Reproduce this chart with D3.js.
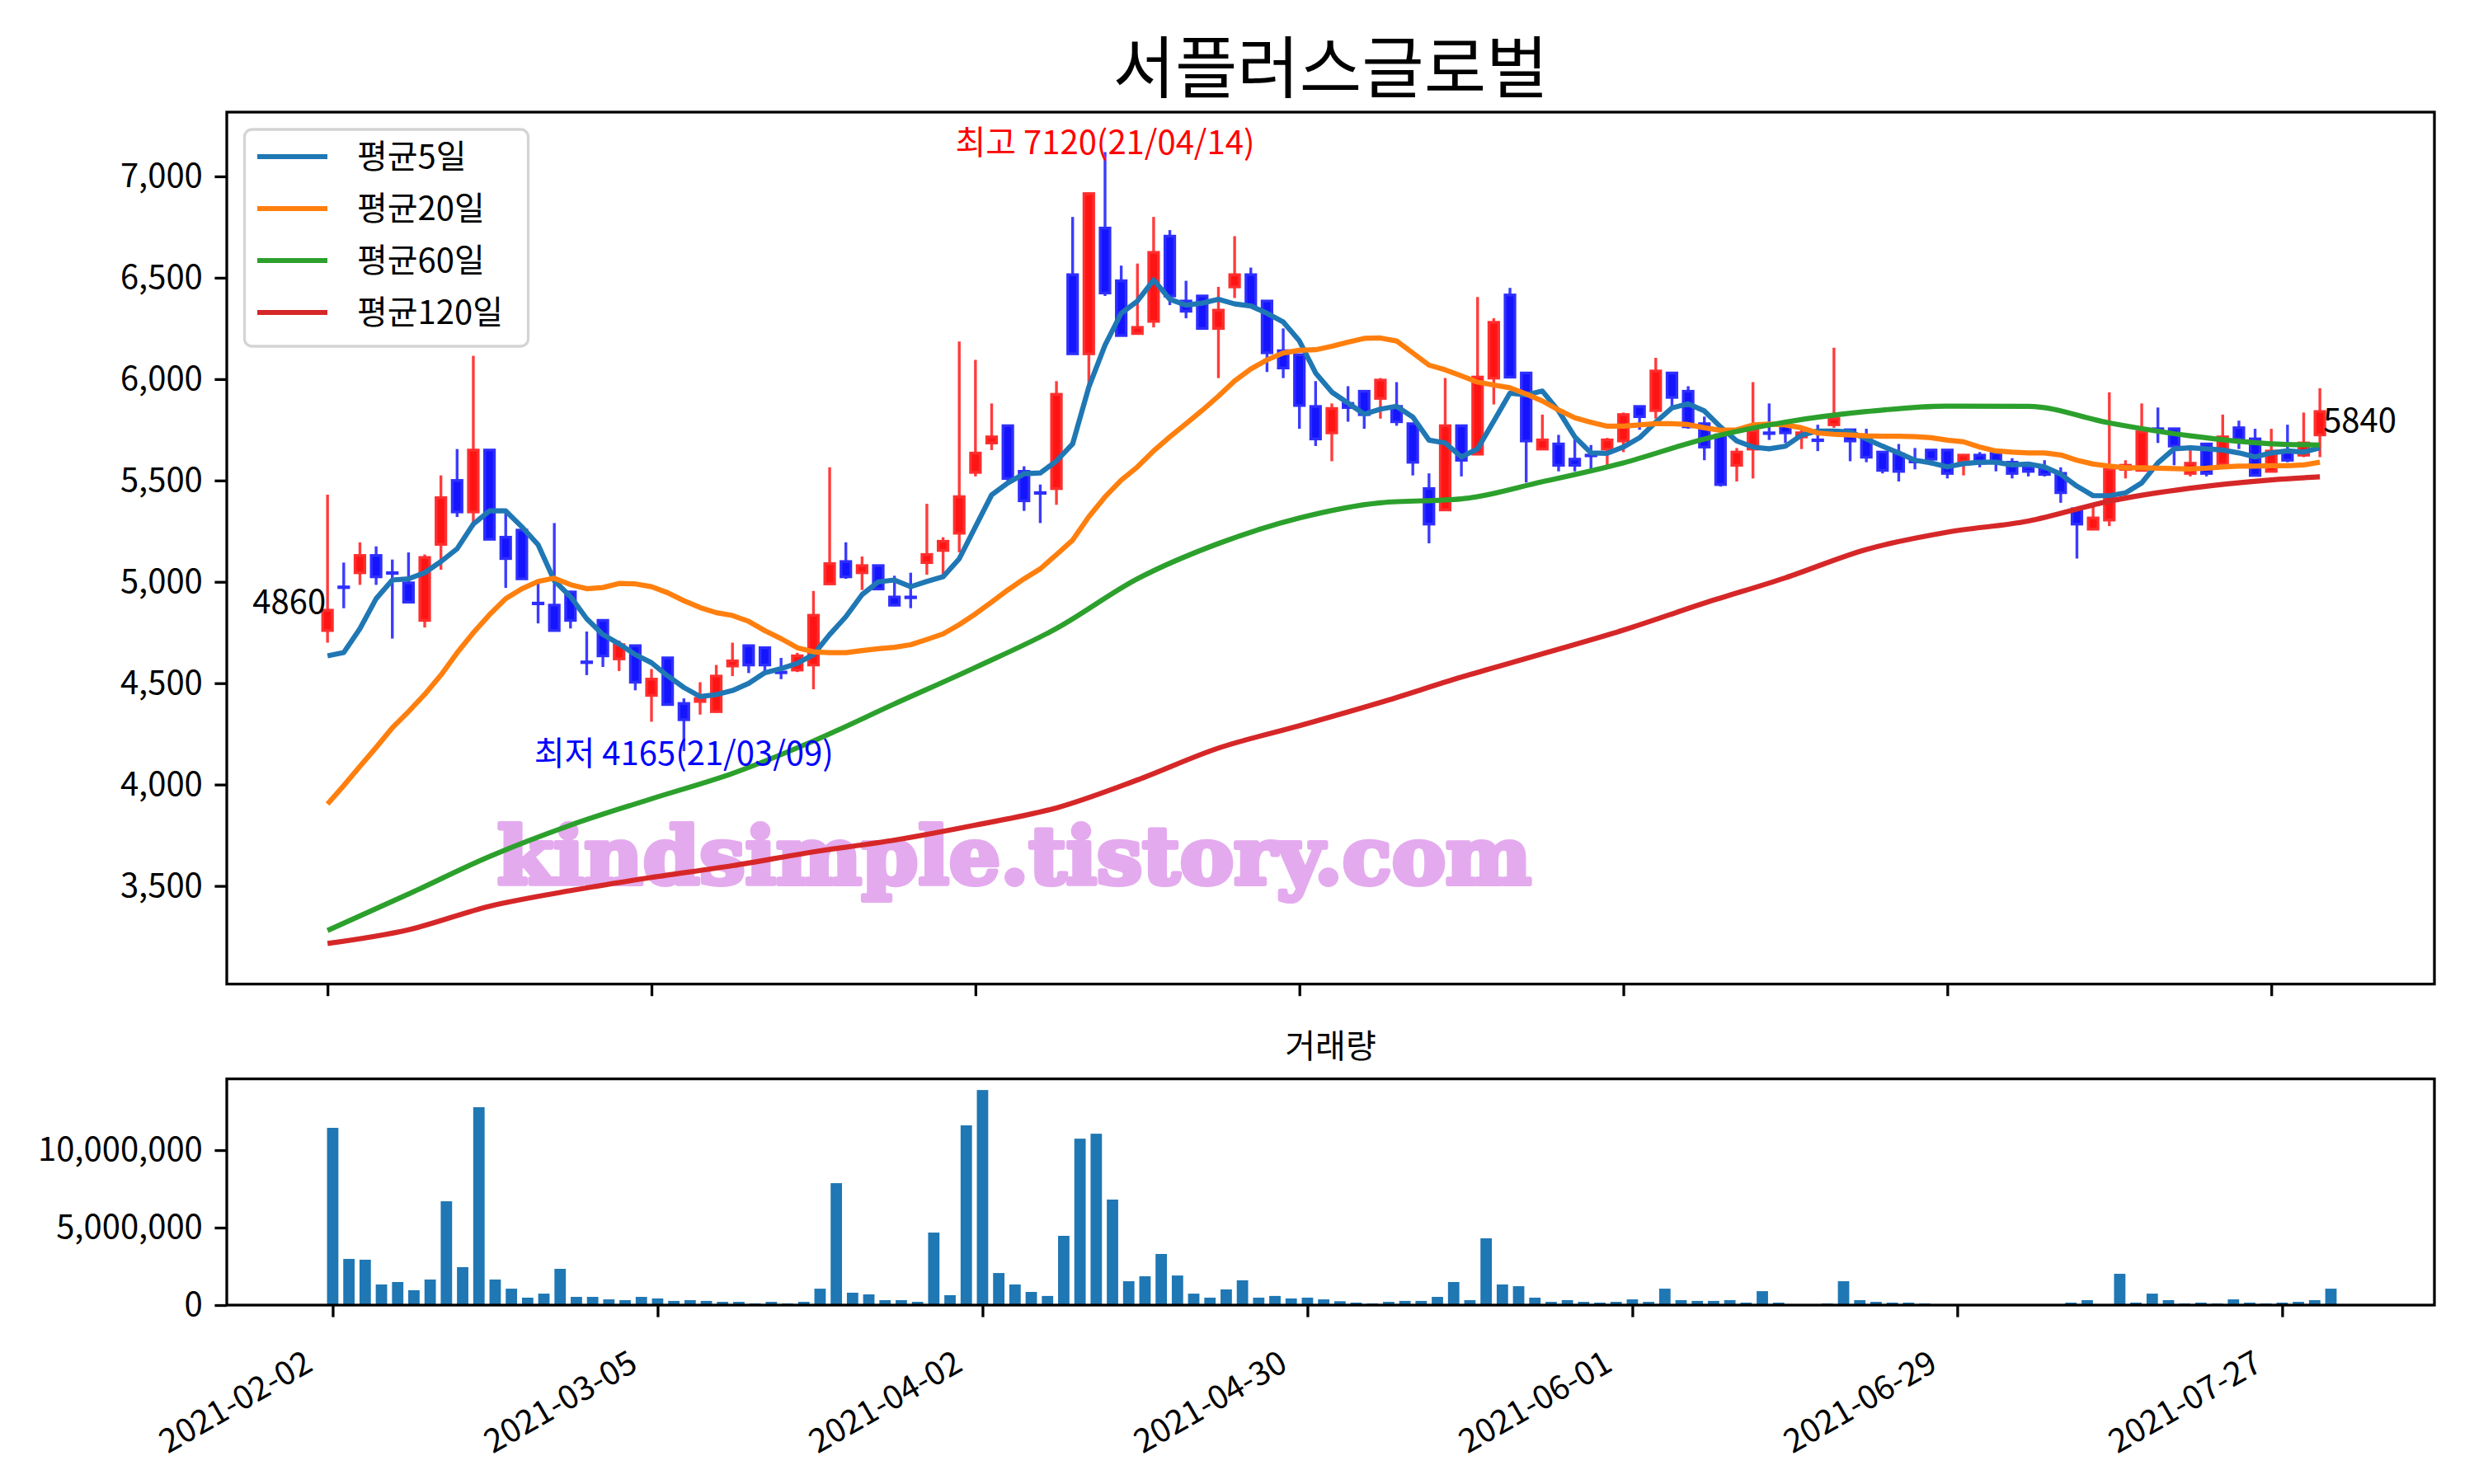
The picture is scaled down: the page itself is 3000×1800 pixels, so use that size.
<!DOCTYPE html>
<html><head><meta charset="utf-8">
<script src="https://cdn.jsdelivr.net/npm/d3@7"></script>
<style>
body{margin:0;background:#fff}
svg text{font-family:'Noto Sans CJK KR','Noto Sans',sans-serif}
</style>
</head><body>
<svg id="c" width="3000" height="1800"></svg>
<script>
const chartTitle = "서플러스글로벌";
const volTitle = "거래량";
const seriesNames = ["평균5일","평균20일","평균60일","평균120일"];
const seriesColors = ["#1f77b4","#ff7f0e","#2ca02c","#d62728"];

const tickIdx = [0,20,40,60,80,100,120];
const tickLabels = ["2021-02-02","2021-03-05","2021-04-02","2021-04-30","2021-06-01","2021-06-29","2021-07-27"];
const priceTicks = [3500,4000,4500,5000,5500,6000,6500,7000];
const volTicks = [0,5000000,10000000];

const openP = [4760,4975,5045,5130,5045,4995,4810,5185,5500,5345,
 5650,5220,5255,4895,4885,4950,4605,4810,4620,4685,
 4440,4625,4400,4410,4360,4585,4685,4675,4555,4565,
 4590,4990,5100,5045,5080,4925,4925,5095,5155,5240,
 5540,5685,5770,5545,5440,5460,6515,6125,6745,6485,
 6225,6285,6705,6385,6410,6250,6455,6515,6385,6140,
 6120,5865,5735,5880,5940,5905,5865,5780,5460,5355,
 5770,5630,6005,6415,6030,5655,5680,5605,5625,5655,
 5695,5865,5845,6030,5940,5780,5725,5575,5655,5735,
 5770,5715,5700,5775,5750,5705,5640,5630,5595,5650,
 5650,5595,5625,5635,5590,5565,5555,5535,5360,5260,
 5305,5555,5550,5755,5755,5535,5680,5580,5760,5705,
 5545,5645,5625,5725];
const highP = [5430,5095,5195,5175,5110,5145,5135,5525,5655,6115,
 5650,5360,5280,4995,5290,4955,4755,4810,4710,4690,
 4570,4625,4425,4505,4590,4700,4685,4675,4625,4650,
 4955,5565,5195,5125,5080,5030,5045,5385,5220,6185,
 6095,5880,5770,5570,5480,5990,6800,6920,7120,6560,
 6570,6800,6735,6485,6410,6455,6705,6550,6385,6250,
 6120,5990,5880,5965,5940,6005,5985,5780,5535,6005,
 5770,6405,6300,6450,6030,5825,5725,5705,5675,5710,
 5835,5865,6105,6030,5965,5815,5725,5660,5985,5880,
 5770,5755,5775,6155,5750,5755,5640,5680,5660,5650,
 5650,5630,5640,5635,5610,5585,5600,5565,5360,5370,
 5935,5600,5880,5860,5755,5650,5680,5825,5795,5755,
 5755,5775,5835,5955];
const lowP = [4700,4870,4985,4985,4720,4895,4775,5060,5320,5270,
 5210,4970,5015,4795,4760,4770,4540,4580,4560,4465,
 4310,4395,4165,4345,4355,4535,4550,4550,4520,4555,
 4470,4990,5015,4960,4960,4880,4870,5035,5035,5145,
 5520,5650,5480,5350,5290,5380,6125,5970,6410,6215,
 6220,6255,6365,6300,6250,6005,6400,6365,6035,6005,
 5755,5670,5595,5790,5755,5805,5770,5525,5190,5355,
 5520,5630,5875,6010,5490,5650,5545,5545,5555,5575,
 5640,5750,5805,5860,5755,5600,5470,5495,5510,5700,
 5685,5655,5645,5760,5595,5590,5535,5495,5555,5575,
 5510,5525,5565,5545,5510,5520,5520,5390,5115,5260,
 5275,5510,5550,5685,5575,5520,5520,5580,5655,5525,
 5545,5590,5615,5615];
const closeP = [4860,4975,5130,5025,5045,4900,5120,5415,5345,5650,
 5210,5115,5015,4895,4760,4810,4605,4635,4690,4505,
 4520,4395,4320,4425,4535,4610,4590,4590,4555,4635,
 4835,5090,5025,5080,4965,4885,4925,5135,5200,5420,
 5635,5715,5510,5400,5440,5925,6125,6915,6425,6215,
 6255,6625,6410,6335,6250,6340,6515,6365,6130,6055,
 5870,5705,5855,5860,5825,5995,5790,5590,5285,5770,
 5600,6010,6280,6010,5695,5700,5575,5575,5625,5700,
 5825,5815,6040,5910,5765,5665,5480,5640,5745,5735,
 5735,5735,5700,5805,5695,5615,5550,5545,5595,5605,
 5535,5625,5585,5595,5535,5545,5530,5440,5285,5315,
 5555,5575,5740,5755,5670,5585,5535,5715,5705,5525,
 5645,5600,5685,5840];
const volume = [11440000,2980000,2930000,1330000,1490000,960000,1650000,6700000,2450000,12770000,
 1650000,1060000,480000,740000,2340000,530000,530000,370000,320000,530000,
 430000,270000,320000,270000,210000,210000,110000,210000,110000,210000,
 1060000,7870000,800000,690000,320000,320000,210000,4680000,640000,11600000,
 13880000,2070000,1330000,850000,590000,4470000,10740000,11060000,6810000,1540000,
 1860000,3300000,1910000,740000,480000,1010000,1600000,480000,590000,430000,
 480000,370000,250000,160000,110000,210000,270000,270000,530000,1490000,
 320000,4310000,1330000,1220000,480000,210000,320000,210000,160000,210000,
 370000,210000,1060000,320000,270000,270000,320000,160000,900000,160000,
 50000,50000,110000,1540000,320000,210000,160000,160000,110000,30000,
 50000,50000,50000,50000,50000,30000,30000,160000,320000,30000,
 2020000,160000,740000,320000,110000,160000,110000,370000,160000,110000,
 160000,210000,320000,1060000];
const ma5 = [4635,4651,4769,4917,5009,5015,5045,5100,5163,5285,
 5350,5350,5271,5183,5006,4927,4818,4740,4694,4641,
 4601,4536,4479,4434,4444,4464,4499,4552,4572,4598,
 4641,4740,4828,4937,5000,5009,4976,5002,5025,5114,
 5272,5429,5488,5533,5537,5596,5681,5961,6168,6325,
 6385,6489,6394,6365,6375,6394,6371,6361,6325,6282,
 6188,6030,5936,5882,5827,5852,5866,5813,5699,5685,
 5616,5656,5793,5931,5922,5941,5843,5715,5636,5634,
 5665,5711,5788,5858,5878,5843,5764,5695,5665,5656,
 5669,5724,5744,5744,5740,5705,5669,5636,5600,5587,
 5567,5583,5590,5590,5577,5581,5567,5531,5472,5425,
 5425,5439,5488,5587,5656,5661,5656,5650,5636,5616,
 5636,5646,5640,5661];
const ma20 = [3904,3995,4090,4183,4280,4360,4445,4540,4650,4749,
 4838,4917,4966,5002,5018,4986,4966,4972,4992,4990,
 4976,4946,4907,4873,4848,4834,4805,4759,4720,4675,
 4655,4651,4651,4661,4670,4677,4690,4716,4743,4789,
 4842,4900,4960,5015,5064,5134,5206,5321,5419,5502,
 5567,5646,5715,5780,5846,5916,5991,6050,6095,6129,
 6142,6145,6162,6182,6201,6203,6188,6129,6069,6046,
 6016,5985,5971,5957,5927,5892,5848,5809,5787,5768,
 5768,5774,5780,5780,5776,5760,5748,5750,5774,5778,
 5774,5760,5734,5728,5724,5720,5718,5718,5716,5711,
 5699,5691,5665,5646,5640,5636,5636,5626,5600,5581,
 5571,5563,5563,5561,5559,5557,5561,5567,5571,5571,
 5573,5573,5577,5590];
const maIdx = [0,5,10,15,20,25,30,35,40,45,50,55,60,65,70,75,80,85,90,95,100,105,110,115,120,123];
const ma60 = [3280,3460,3645,3800,3930,4055,4215,4398,4578,4770,5015,5189,5315,5390,5409,5494,5587,5705,5788,5840,5867,5866,5784,5720,5681,5675];
const ma120 = [3216,3284,3400,3477,3542,3600,3668,3726,3800,3885,4023,4180,4290,4405,4530,4645,4762,4895,5020,5160,5245,5300,5398,5462,5503,5518];

const firstLabel = "4860", lastLabel = "5840";
const maxLabel = "최고 7120(21/04/14)", maxIdx = 48, maxVal = 7120;
const minLabel = "최저 4165(21/03/09)", minIdx = 22, minVal = 4165;
const watermark = "kindsimple.tistory.com";

// layout
const L = 275, R = 2952, T = 136, B = 1193.6, T2 = 1308.6, B2 = 1583;
const svg = d3.select("#c");
const n = closeP.length;

const xM = d3.scaleLinear().domain([-6.22, 130.07]).range([L, R]);
const yM = d3.scaleLinear().domain([3016, 7317]).range([B, T]);
const xV = d3.scaleLinear().domain([-6.52, 129.37]).range([L, R]);
const yV = d3.scaleLinear().domain([0, 14600000]).range([B2, T2]);

// title
svg.append("text").attr("x", (L + R) / 2).attr("y", 112).attr("text-anchor", "middle")
  .attr("font-size", 82).attr("fill", "#000").text(chartTitle);

// watermark (behind marks)
svg.append("text").attr("x", 603).attr("y", 1072)
  .attr("font-weight", "bold")
  .attr("font-size", 96).attr("fill", "#e4aaee")
  .attr("stroke", "#e4aaee").attr("stroke-width", 6).attr("stroke-linejoin", "round")
  .attr("textLength", 1254).attr("lengthAdjust", "spacingAndGlyphs")
  .style("font-family", "'DejaVu Serif',serif").text(watermark);

// candles
const idx = d3.range(n);
const bw = 0.6 * (xM(1) - xM(0));
const cg = svg.append("g");
idx.forEach(i => {
  const up = closeP[i] > openP[i];
  const wickC = up ? "#ff3c3c" : "#3c3cff";
  const bodyF = up ? "#ff1414" : "#1414ff";
  const bodyS = up ? "#ff2e2e" : "#2e2eff";
  const cx = xM(i);
  cg.append("line").attr("x1", cx).attr("x2", cx)
    .attr("y1", yM(highP[i])).attr("y2", yM(lowP[i]))
    .attr("stroke", wickC).attr("stroke-width", 3.4);
  const y1 = yM(Math.max(openP[i], closeP[i])), y2 = yM(Math.min(openP[i], closeP[i]));
  cg.append("rect").attr("x", cx - bw / 2).attr("y", y1)
    .attr("width", bw).attr("height", Math.max(y2 - y1, 0.8))
    .attr("fill", bodyF).attr("stroke", bodyS).attr("stroke-width", 3.4);
});

// moving averages
function drawLine(xs, ys, color, curve) {
  const line = d3.line().curve(curve);
  svg.append("path").attr("d", line(xs.map((x, k) => [xM(x), yM(ys[k])])))
    .attr("fill", "none").attr("stroke", color).attr("stroke-width", 6.2)
    .attr("stroke-linejoin", "round");
}
drawLine(idx, ma5, seriesColors[0], d3.curveLinear);
drawLine(idx, ma20, seriesColors[1], d3.curveLinear);
drawLine(maIdx, ma60, seriesColors[2], d3.curveMonotoneX);
drawLine(maIdx, ma120, seriesColors[3], d3.curveMonotoneX);

// annotations
svg.append("text").attr("x", xM(0) - 2).attr("y", yM(closeP[0]) + 4).attr("text-anchor", "end")
  .attr("font-size", 40).attr("fill", "#000").text(firstLabel);
svg.append("text").attr("x", xM(n - 1) + 4).attr("y", yM(closeP[n - 1]) + 25).attr("text-anchor", "start")
  .attr("font-size", 40).attr("fill", "#000").text(lastLabel);
svg.append("text").attr("x", xM(maxIdx)).attr("y", yM(maxVal) + 3).attr("text-anchor", "middle")
  .attr("font-size", 40).attr("fill", "#ff0000").text(maxLabel);
svg.append("text").attr("x", xM(minIdx)).attr("y", yM(minVal) + 17).attr("text-anchor", "middle")
  .attr("font-size", 40).attr("fill", "#0000ff").text(minLabel);

// legend
const lg = svg.append("g");
lg.append("rect").attr("x", 296.5).attr("y", 157).attr("width", 344).attr("height", 263)
  .attr("rx", 9).attr("fill", "#fff").attr("fill-opacity", 0.8)
  .attr("stroke", "#d4d4d4").attr("stroke-width", 3.3);
seriesNames.forEach((s, k) => {
  const yy = 190 + 63 * k;
  lg.append("line").attr("x1", 312).attr("x2", 397).attr("y1", yy).attr("y2", yy)
    .attr("stroke", seriesColors[k]).attr("stroke-width", 6.2);
  lg.append("text").attr("x", 433).attr("y", yy).attr("dy", "0.36em")
    .attr("font-size", 40).attr("fill", "#000").text(s);
});

// volume bars
const vbw = 0.7 * (xV(1) - xV(0));
svg.append("g").selectAll("rect").data(idx).join("rect")
  .attr("x", i => xV(i) - vbw / 2).attr("y", i => yV(volume[i]))
  .attr("width", vbw).attr("height", i => B2 - yV(volume[i]))
  .attr("fill", "#1f77b4");

svg.append("text").attr("x", (L + R) / 2).attr("y", 1283).attr("text-anchor", "middle")
  .attr("font-size", 40).attr("fill", "#000").text(volTitle);

// axes
const fmt = d3.format(",");
function styleAxis(g) {
  g.select(".domain").remove();
  g.selectAll(".tick line").attr("stroke", "#000").attr("stroke-width", 3.3);
  g.selectAll(".tick text").attr("font-size", 40).attr("fill", "#000")
    .style("font-family", "'Noto Sans CJK KR',sans-serif");
}
svg.append("g").attr("transform", `translate(${L},0)`)
  .call(d3.axisLeft(yM).tickValues(priceTicks).tickFormat(fmt).tickSize(14.6).tickPadding(14.6))
  .call(styleAxis);
svg.append("g").attr("transform", `translate(0,${B})`)
  .call(d3.axisBottom(xM).tickValues(tickIdx).tickFormat("").tickSize(14.6))
  .call(styleAxis);
svg.append("g").attr("transform", `translate(${L},0)`)
  .call(d3.axisLeft(yV).tickValues(volTicks).tickFormat(fmt).tickSize(14.6).tickPadding(14.6))
  .call(styleAxis);
svg.append("g").attr("transform", `translate(0,${B2})`)
  .call(d3.axisBottom(xV).tickValues(tickIdx).tickFormat("").tickSize(14.6))
  .call(styleAxis);
tickIdx.forEach((t, k) => {
  svg.append("text")
    .attr("transform", `translate(${xV(t) - 22},${1661}) rotate(-30)`)
    .attr("text-anchor", "end").attr("font-size", 40).attr("fill", "#000")
    .text(tickLabels[k]);
});

// frames
[[T, B], [T2, B2]].forEach(([t, b]) => {
  svg.append("rect").attr("x", L).attr("y", t).attr("width", R - L).attr("height", b - t)
    .attr("fill", "none").attr("stroke", "#000").attr("stroke-width", 3.3);
});
</script>
</body></html>
